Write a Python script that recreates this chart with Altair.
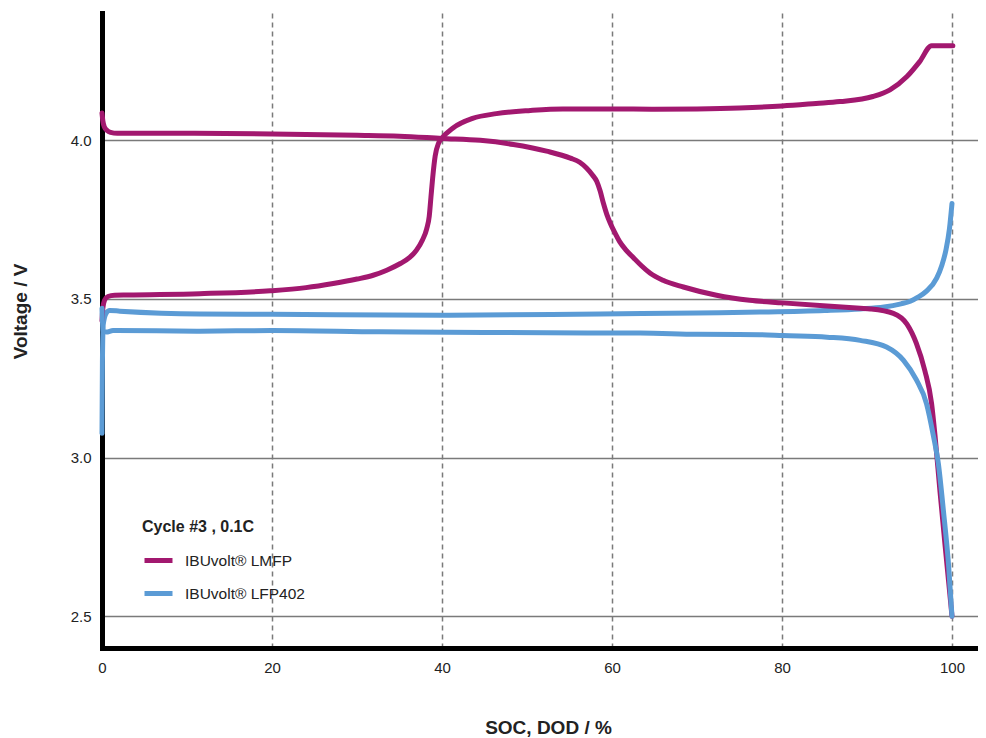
import altair as alt
import pandas as pd

# ---- data ----
lmfp_chg_x = [0, 0.1, 0.3, 0.7, 1.5, 3, 11.5, 19.8, 24, 27.2, 30, 31.9, 33.5, 35.1, 36.2, 37.0,
              37.7, 38.2, 38.5, 38.7, 38.9, 39.2, 39.6, 40.0, 41.3, 43.6, 46.4, 50.4, 54.2, 60,
              65, 70, 75, 80, 84, 86.8, 90.7, 92.7, 94.7, 96.2, 97.6, 100.1]
lmfp_chg_v = [3.43, 3.47, 3.495, 3.507, 3.511, 3.512, 3.516, 3.525, 3.535, 3.548, 3.562, 3.574,
              3.59, 3.611, 3.63, 3.653, 3.685, 3.72, 3.76, 3.82, 3.88, 3.95, 3.99, 4.006, 4.038,
              4.068, 4.083, 4.093, 4.098, 4.098, 4.097, 4.098, 4.101, 4.107, 4.115, 4.121, 4.137,
              4.158, 4.2, 4.247, 4.297, 4.297]

lmfp_dis_x = [0, 0.1, 0.3, 0.6, 1.0, 1.8, 9.2, 20, 30, 35, 40, 44.5, 48.4, 52.3, 55.1, 56.2,
              57.0, 57.7, 58.2, 58.6, 59.0, 59.4, 59.8, 60.3, 60.9, 61.6, 62.5, 63.5, 64.5, 66,
              68.4, 72.3, 76.2, 80.1, 85.3, 89.2, 90.4, 93.1, 94.7, 95.8, 96.8, 97.6, 98.0,
              98.6, 99.2, 99.6, 100]
lmfp_dis_v = [4.085, 4.06, 4.04, 4.03, 4.024, 4.021, 4.021, 4.019, 4.015, 4.012, 4.005, 3.999,
              3.986, 3.965, 3.943, 3.93, 3.912, 3.89, 3.87, 3.84, 3.80, 3.765, 3.738, 3.71,
              3.68, 3.655, 3.63, 3.603, 3.58, 3.558, 3.537, 3.511, 3.495, 3.487, 3.477, 3.47,
              3.468, 3.454, 3.42, 3.36, 3.274, 3.17, 3.07, 2.89, 2.72, 2.61, 2.50]

lfp_chg_x = [0, 0.05, 0.15, 0.5, 0.9, 2.1, 11.5, 20, 40, 58.6, 70, 77.4, 85, 89.2, 92, 94, 95.1,
             96, 97.0, 98.2, 98.8, 99.3, 99.7, 100]
lfp_chg_v = [3.076, 3.30, 3.42, 3.455, 3.463, 3.461, 3.452, 3.451, 3.448, 3.452, 3.455, 3.458,
             3.463, 3.468, 3.474, 3.484, 3.492, 3.505, 3.524, 3.565, 3.605, 3.655, 3.72, 3.80]

lfp_dis_x = [0, 0.1, 0.5, 1.3, 11.5, 20, 32.7, 45, 58.6, 63.3, 70, 77.4, 80.1, 85.3, 89.2, 92.3,
             94.3, 95.8, 97.0, 97.8, 98.4, 99.0, 99.6, 100]
lfp_dis_v = [3.47, 3.40, 3.395, 3.40, 3.398, 3.40, 3.396, 3.394, 3.392, 3.392, 3.388, 3.387,
             3.384, 3.379, 3.369, 3.348, 3.306, 3.245, 3.17, 3.07, 2.98, 2.83, 2.66, 2.50]

series_names = ["IBUvolt\u00ae LMFP", "IBUvolt\u00ae LFP402"]
series_colors = ["#A2186F", "#5B9BD5"]
x_ticks = [0, 20, 40, 60, 80, 100]
y_ticks = [2.5, 3.0, 3.5, 4.0]

curves = [
    ("lfp_chg", series_names[1], lfp_chg_x, lfp_chg_v),
    ("lmfp_chg", series_names[0], lmfp_chg_x, lmfp_chg_v),
    ("lmfp_dis", series_names[0], lmfp_dis_x, lmfp_dis_v),
    ("lfp_dis", series_names[1], lfp_dis_x, lfp_dis_v),
]

rows = []
for cid, sname, xs, vs in curves:
    for i, (xv, vv) in enumerate(zip(xs, vs)):
        rows.append({"curve": cid, "series": sname, "soc": xv, "v": vv, "i": i})
df = pd.DataFrame(rows)

FONT = "Liberation Sans"

x_enc = alt.X(
    "soc:Q",
    scale=alt.Scale(domain=[0, 103.06], nice=False, zero=False),
    axis=alt.Axis(
        values=x_ticks, title="SOC, DOD / %", grid=True, gridDash=[5, 4],
        gridColor="#7a7a7a", gridWidth=1.5, domainColor="black", domainWidth=5,
        domainCap="square", ticks=False, labelPadding=12, labelFontSize=15,
        labelColor="#222", labelFlush=False, titleFontSize=19, titleFontWeight="bold",
        titleColor="#222", titleX=446, titleY=85, titleBaseline="alphabetic",
    ),
)
y_enc = alt.Y(
    "v:Q",
    scale=alt.Scale(domain=[2.4, 4.4], nice=False, zero=False),
    axis=alt.Axis(
        values=y_ticks, format=".1f", title="Voltage / V", grid=True,
        gridColor="#7a7a7a", gridWidth=1.5, domainColor="black", domainWidth=5,
        domainCap="square", ticks=False, labelPadding=11, labelFontSize=15,
        labelColor="#222", labelFlush=False, titleFontSize=19, titleFontWeight="bold",
        titleColor="#222", titleX=-82, titleY=298, titleAlign="center",
        titleBaseline="middle",
    ),
)
color_enc = alt.Color(
    "series:N",
    scale=alt.Scale(domain=series_names, range=series_colors),
    legend=alt.Legend(
        title="Cycle #3 , 0.1C", orient="none", legendX=40, legendY=506,
        titleFontSize=16, titleFontWeight="bold", titleColor="#222", titlePadding=9,
        labelFontSize=15.5, labelColor="#222", labelOffset=10, symbolType="stroke",
        symbolStrokeWidth=5, symbolSize=784, rowPadding=6,
    ),
)

base = alt.Chart(df).mark_line(
    strokeWidth=5, interpolate="monotone", strokeCap="round", strokeJoin="round"
).encode(x=x_enc, y=y_enc, color=color_enc, order="i:Q")

layers = [base.transform_filter(alt.datum.curve == cid) for cid, _, _, _ in curves]

chart = alt.layer(*layers).properties(
    width=876, height=635,
    autosize=alt.AutoSizeParams(type="none"),
    padding={"left": 94, "top": 5, "right": 0, "bottom": 90},
).configure(font=FONT).configure_view(stroke=None)

chart.save("out.html", embed_options={"renderer": "svg", "actions": False})
